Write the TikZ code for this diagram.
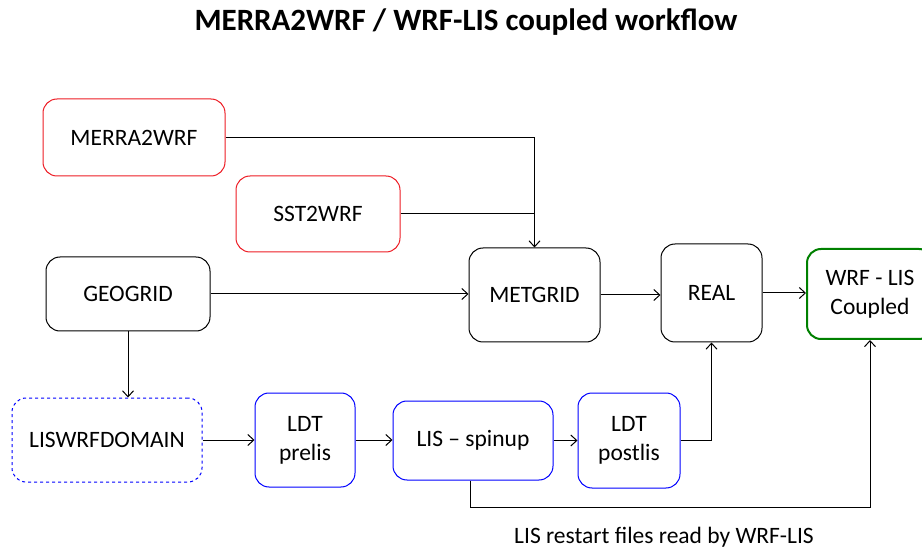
\documentclass[tikz,border=0pt]{standalone}
\usepackage{fontspec}
\setmainfont{Carlito}
\usetikzlibrary{arrows.meta}
\definecolor{boxred}{RGB}{237,28,36}
\definecolor{boxblue}{RGB}{0,0,255}
\definecolor{boxgreen}{RGB}{0,128,0}
\begin{document}
\begin{tikzpicture}[x=1pt,y=-1pt,
  stage/.style={draw, rectangle, rounded corners=14pt, line width=1pt, inner sep=0pt, align=center,
    font=\fontsize{23.5}{29}\selectfont},
  redbox/.style={stage, draw=boxred},
  blackbox/.style={stage, draw=black},
  bluebox/.style={stage, draw=boxblue},
  greenbox/.style={stage, draw=boxgreen, line width=2pt},
  conn/.style={line width=1pt, draw=black},
  arr/.style={conn, -{Straight Barb[length=6pt,width=11pt,line width=1pt]}}
]
\useasboundingbox (0,0) rectangle (922,548);
\node[font=\bfseries\fontsize{31}{36}\selectfont] (title) at (466,22) {MERRA2WRF / WRF-LIS coupled workflow};

\node[redbox, minimum width=182pt, minimum height=77pt] (merra) at (134,137.5) {MERRA2WRF};
\node[redbox, minimum width=164pt, minimum height=76pt] (sst) at (318,214) {SST2WRF};
\node[blackbox, minimum width=164pt, minimum height=74pt] (geo) at (128,294) {GEOGRID};
\node[blackbox, minimum width=131pt, minimum height=94pt] (met) at (534.5,295) {METGRID};
\node[blackbox, minimum width=101pt, minimum height=98pt] (real) at (711.5,293) {REAL};
\node[greenbox, minimum width=126pt, minimum height=90pt] (wrf) at (870,294) {WRF - LIS\\Coupled};

\node[bluebox, dashed, minimum width=190pt, minimum height=84pt] (lisd) at (107,440) {LISWRFDOMAIN};
\node[bluebox, minimum width=100pt, minimum height=94pt] (prelis) at (305,440) {LDT\\prelis};
\node[bluebox, minimum width=160pt, minimum height=79pt] (spin) at (473,440.5) {LIS -- spinup};
\node[bluebox, minimum width=102pt, minimum height=95pt] (post) at (629,440.5) {LDT\\postlis};

\node[font=\fontsize{23.5}{28}\selectfont] (restart) at (664,537) {LIS restart files read by WRF-LIS};

\draw[arr] (merra.east) -| (met.north);
\draw[conn] (sst.east) -- (sst.east -| met.north);
\draw[arr] (geo.east) -- (geo.east -| met.west);
\draw[arr] (geo.south) -- (geo.south |- lisd.north);
\draw[arr] (met.east) -- (met.east -| real.west);
\draw[arr] (real.east) -- (real.east -| wrf.west);
\draw[arr] (lisd.east) -- (lisd.east -| prelis.west);
\draw[arr] (prelis.east) -- (prelis.east -| spin.west);
\draw[arr] (spin.east) -- (spin.east -| post.west);
\draw[arr] (post.east) -| (real.south);
\coordinate (low) at (470,507);
\draw[arr] (spin.south -| low) -- (low) -| (wrf.south);
\end{tikzpicture}
\end{document}
